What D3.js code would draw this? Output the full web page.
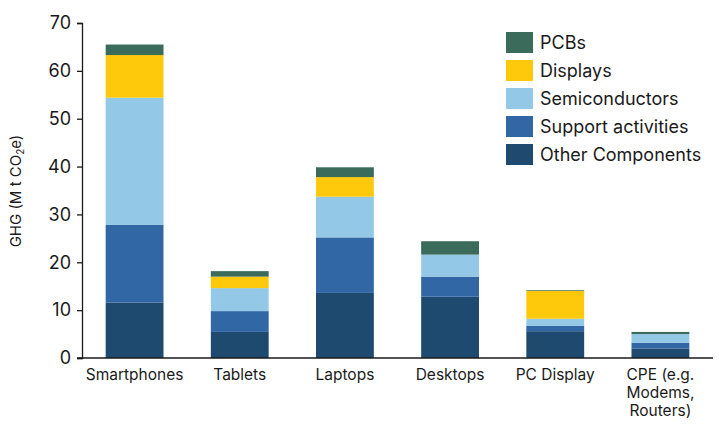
<!DOCTYPE html>
<html>
<head>
<meta charset="utf-8">
<script src="https://cdn.jsdelivr.net/npm/d3@7"></script>
<style>
  body { margin: 0; background: #fff; }
  text { font-family: Inter, "Noto Sans", sans-serif; fill: #1a1a1a; }
</style>
</head>
<body>
<div id="chart-area"></div>
<script>
// data (M t CO2e)
var categories = ["Smartphones", "Tablets", "Laptops", "Desktops", "PC Display", "CPE (e.g.|Modems,|Routers)"];
var otherComponents = [11.6, 5.45, 13.6, 12.8, 5.6, 2.0];
var supportActivities = [16.2, 4.35, 11.6, 4.2, 1.1, 1.2];
var semiconductors = [26.6, 4.8, 8.5, 4.6, 1.5, 1.8];
var displays = [8.9, 2.4, 4.1, 0, 5.8, 0];
var pcbs = [2.2, 1.15, 2.05, 2.8, 0.15, 0.45];
var seriesNames = ["Other Components", "Support activities", "Semiconductors", "Displays", "PCBs"];
var yTicks = [0, 10, 20, 30, 40, 50, 60, 70];

var colors = {
  "Other Components": "#1d4a6e",
  "Support activities": "#3267a6",
  "Semiconductors": "#93c8e6",
  "Displays": "#fdc90a",
  "PCBs": "#3b6b5a"
};

var W = 723, H = 430;
var margin = {left: 82, right: 10, top: 23, bottom: 72};

var svg = d3.select("#chart-area").append("svg")
    .attr("width", W)
    .attr("height", H);

var table = categories.map(function(c, i) {
  return {
    cat: c,
    "Other Components": otherComponents[i],
    "Support activities": supportActivities[i],
    "Semiconductors": semiconductors[i],
    "Displays": displays[i],
    "PCBs": pcbs[i]
  };
});

var stacked = d3.stack().keys(seriesNames)(table);

var x = d3.scaleBand()
    .domain(categories)
    .range([margin.left, W - margin.right])
    .paddingInner(0.45)
    .paddingOuter(0.225);

var y = d3.scaleLinear()
    .domain([0, 70])
    .range([H - margin.bottom, margin.top]);

// bars
svg.append("g").selectAll("g")
  .data(stacked)
  .join("g")
    .attr("fill", function(d) { return colors[d.key]; })
  .selectAll("rect")
  .data(function(d) { return d; })
  .join("rect")
    .attr("x", function(d) { return x(d.data.cat); })
    .attr("y", function(d) { return y(d[1]); })
    .attr("width", x.bandwidth())
    .attr("height", function(d) { return Math.max(0, y(d[0]) - y(d[1])); });

// y axis
var yAxis = svg.append("g")
    .attr("transform", "translate(" + margin.left + ",0)")
    .call(d3.axisLeft(y).tickValues(yTicks).tickSize(5).tickPadding(6));
yAxis.select(".domain").attr("stroke", "#1a1a1a").attr("stroke-width", 1.3);
yAxis.selectAll(".tick line").attr("stroke", "#1a1a1a").attr("stroke-width", 1.3);
yAxis.selectAll(".tick text").style("font-size", "18px").attr("fill", "#1a1a1a");

// baseline
svg.append("line")
    .attr("x1", margin.left - 5)
    .attr("x2", W - margin.right)
    .attr("y1", y(0))
    .attr("y2", y(0))
    .attr("stroke", "#1a1a1a")
    .attr("stroke-width", 1.5);

// x labels
var xl = svg.append("g").selectAll("text")
  .data(categories)
  .join("text")
    .attr("text-anchor", "middle")
    .attr("x", function(d) { return x(d) + x.bandwidth() / 2; })
    .attr("y", y(0) + 22)
    .style("font-size", "15.5px");
xl.selectAll("tspan")
  .data(function(d) { return d.split("|"); })
  .join("tspan")
    .attr("x", function() { return this.parentNode.getAttribute("x"); })
    .attr("dy", function(d, i) { return i === 0 ? 0 : 18; })
    .text(function(d) { return d; });

// y title
var yt = svg.append("text")
    .attr("transform", "translate(21," + 191 + ") rotate(-90)")
    .attr("text-anchor", "middle")
    .style("font-size", "15px");
yt.append("tspan").text("GHG (M t CO");
yt.append("tspan").attr("dy", 3).style("font-size", "10px").text("2");
yt.append("tspan").attr("dy", -3).text("e)");

// legend
var legendOrder = seriesNames.slice().reverse();
var lg = svg.append("g").attr("transform", "translate(506,32)");
var item = lg.selectAll("g")
  .data(legendOrder)
  .join("g")
    .attr("transform", function(d, i) { return "translate(0," + (i * 28) + ")"; });
item.append("rect")
    .attr("width", 27)
    .attr("height", 21)
    .attr("fill", function(d) { return colors[d]; });
item.append("text")
    .attr("x", 34)
    .attr("y", 17)
    .style("font-size", "18px")
    .text(function(d) { return d; });
</script>
</body>
</html>
